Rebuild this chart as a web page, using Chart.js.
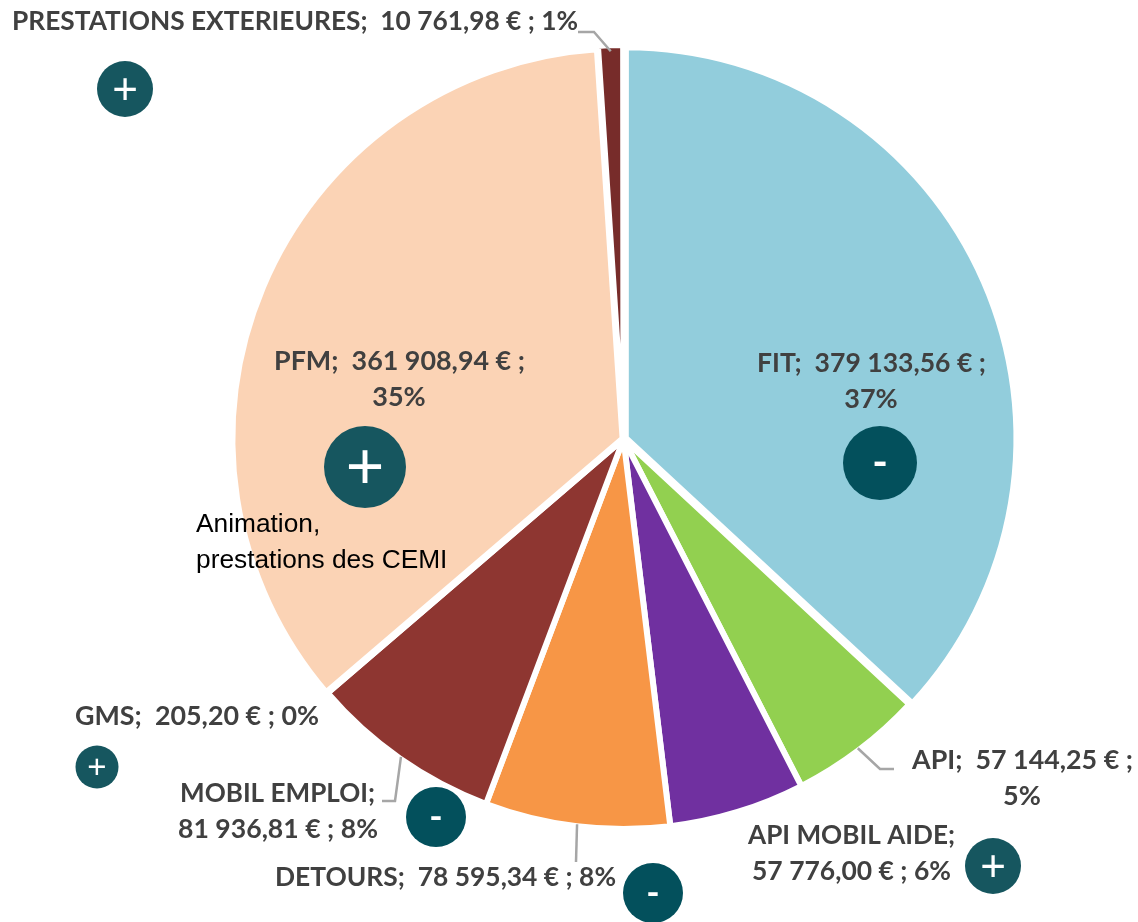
<!DOCTYPE html>
<html>
<head>
<meta charset="utf-8">
<title>Répartition</title>
<script src="https://cdn.jsdelivr.net/npm/chart.js@4/dist/chart.umd.min.js"></script>
<style>
  html, body { margin: 0; padding: 0; background: #fff; }
  canvas { display: block; }
</style>
</head>
<body>
<canvas id="pie" width="1138" height="922"></canvas>
<script>
const categories = ["FIT", "API", "API MOBIL AIDE", "DETOURS", "MOBIL EMPLOI", "GMS", "PFM", "PRESTATIONS EXTERIEURES"];
const amounts = [379133.56, 57144.25, 57776.00, 78595.34, 81936.81, 205.20, 361908.94, 10761.98];
const amountLabels = ["379 133,56 €", "57 144,25 €", "57 776,00 €", "78 595,34 €", "81 936,81 €", "205,20 €", "361 908,94 €", "10 761,98 €"];
const shares = ["37%", "5%", "6%", "8%", "8%", "0%", "35%", "1%"];
const colors = ["#92CDDC", "#92D050", "#7030A0", "#F79646", "#8E3631", "#C0504D", "#FBD3B5", "#772C2A"];

// label blocks: every line is centred on x, width is the width it gets in the picture
const labelBlocks = [
  { i: 0, lines: [{ t: i => `${categories[i]};  ${amountLabels[i]} ;`, x: 871.5, y: 372, w: 229 }, { t: i => shares[i], x: 871, y: 408 }] },
  { i: 1, lines: [{ t: i => `${categories[i]};  ${amountLabels[i]} ;`, x: 1022.5, y: 769, w: 221 }, { t: i => shares[i], x: 1022, y: 805 }] },
  { i: 2, lines: [{ t: i => `${categories[i]};`, x: 851.5, y: 844, w: 207 }, { t: i => `${amountLabels[i]} ; ${shares[i]}`, x: 851.5, y: 880, w: 199 }] },
  { i: 3, lines: [{ t: i => `${categories[i]};  ${amountLabels[i]} ; ${shares[i]}`, x: 445.5, y: 886, w: 341 }] },
  { i: 4, lines: [{ t: i => `${categories[i]};`, x: 277.5, y: 802, w: 195 }, { t: i => `${amountLabels[i]} ; ${shares[i]}`, x: 278, y: 838, w: 200 }] },
  { i: 5, lines: [{ t: i => `${categories[i]};  ${amountLabels[i]} ; ${shares[i]}`, x: 197, y: 725, w: 244 }] },
  { i: 6, lines: [{ t: i => `${categories[i]};  ${amountLabels[i]} ;`, x: 399.5, y: 370, w: 251 }, { t: i => shares[i], x: 399, y: 406 }] },
  { i: 7, lines: [{ t: i => `${categories[i]};  ${amountLabels[i]} ; ${shares[i]}`, x: 295, y: 30, w: 566 }] }
];

// leader lines start on the slice, the rest of the path is the elbow towards the label
const leaders = [
  { i: 7, path: [[594, 32], [578, 32]] },
  { i: 1, path: [[880, 769], [894, 769]] },
  { i: 4, path: [[395, 801], [382, 801]] },
  { i: 3, path: [[576, 862]] }
];

const badges = [
  { x: 125, y: 89, r: 28, sign: "+", fill: "#16565F", size: 44 },
  { x: 365, y: 467, r: 41, sign: "+", fill: "#16565F", size: 66 },
  { x: 880, y: 463, r: 37, sign: "-", fill: "#03505C", size: 42 },
  { x: 97, y: 767, r: 21.5, sign: "+", fill: "#16565F", size: 33 },
  { x: 436, y: 817, r: 30, sign: "-", fill: "#03505C", size: 36 },
  { x: 653, y: 893, r: 30, sign: "-", fill: "#03505C", size: 36 },
  { x: 993, y: 866, r: 28, sign: "+", fill: "#16565F", size: 44 }
];

const noteLines = ["Animation,", "prestations des CEMI"];

const annotations = {
  id: "annotations",
  afterDraw(chart) {
    const ctx = chart.ctx;
    const arcs = chart.getDatasetMeta(0).data;
    ctx.save();

    // leader lines
    ctx.strokeStyle = "#A6A6A6";
    ctx.lineWidth = 2.5;
    leaders.forEach(l => {
      const a = arcs[l.i];
      const mid = (a.startAngle + a.endAngle) / 2;
      ctx.beginPath();
      ctx.moveTo(a.x + Math.cos(mid) * (a.outerRadius - 2), a.y + Math.sin(mid) * (a.outerRadius - 2));
      l.path.forEach(p => ctx.lineTo(p[0], p[1]));
      ctx.stroke();
    });

    // labels
    ctx.fillStyle = "#404040";
    ctx.font = "700 27px Lato";
    ctx.textAlign = "center";
    ctx.textBaseline = "alphabetic";
    labelBlocks.forEach(b => {
      b.lines.forEach(line => {
        if (line.w) ctx.fillText(line.t(b.i), line.x, line.y, line.w);
        else ctx.fillText(line.t(b.i), line.x, line.y);
      });
    });

    // plus / minus badges
    badges.forEach(b => {
      ctx.fillStyle = b.fill;
      ctx.beginPath();
      ctx.arc(b.x, b.y, b.r, 0, Math.PI * 2);
      ctx.fill();
      ctx.fillStyle = "#fff";
      ctx.font = (b.sign === "+" ? "400 " : "700 ") + b.size + "px " + (b.sign === "+" ? "'Liberation Sans'" : "Lato");
      ctx.textBaseline = "middle";
      ctx.fillText(b.sign, b.x, b.y + (b.sign === "+" ? b.size * 0.06 : 0));
    });

    // note on top of the PFM slice
    ctx.fillStyle = "#000";
    ctx.font = "26.3px 'Liberation Sans'";
    ctx.textAlign = "left";
    ctx.textBaseline = "alphabetic";
    noteLines.forEach((t, k) => ctx.fillText(t, 196, 532 + k * 36));

    ctx.restore();
  }
};

new Chart(document.getElementById("pie").getContext("2d"), {
  type: "pie",
  data: {
    labels: categories,
    datasets: [{
      data: amounts,
      backgroundColor: colors,
      borderColor: "#fff",
      borderWidth: 6,
      offset: [10, 0, 0, 0, 0, 0, 4, 8]
    }]
  },
  options: {
    responsive: false,
    animation: false,
    layout: { padding: { left: 225.5, right: 116.5, top: 41, bottom: 85 } },
    plugins: { legend: { display: false }, tooltip: { enabled: false } }
  },
  plugins: [annotations]
});
</script>
</body>
</html>
